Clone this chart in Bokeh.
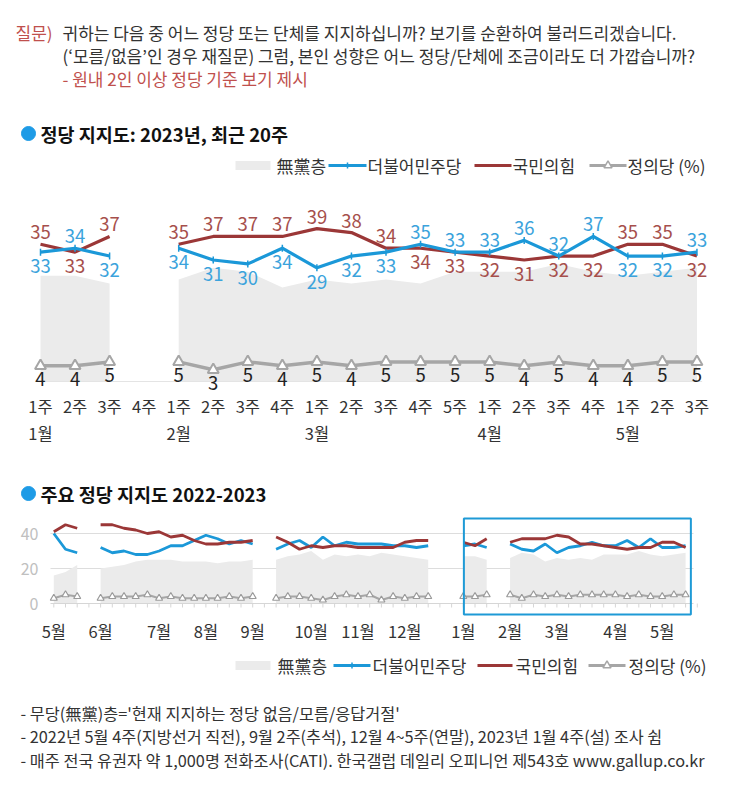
import math
from bokeh.plotting import figure
from bokeh.layouts import column
from bokeh.models import ColumnDataSource, Range1d
from bokeh.core.properties import value
from bokeh.embed import file_html
from bokeh.resources import INLINE

FONT = "Noto Sans CJK KR"
BLUE = "#1b98d8"; BLUE_T = "#3ba3dc"
RED = "#9b3737"; RED_T = "#a64f4c"
GRAY = "#a6a6a6"; AREA = "#ebebeb"
TXT = "#333333"; QRED = "#c0504d"; DOT = "#1e9be6"; BOX = "#1e9ad6"

# ---------------- data: recent 20 weeks (2023) ----------------
week_labels = ["1주", "2주", "3주", "4주", "1주", "2주", "3주", "4주", "1주", "2주",
               "3주", "4주", "5주", "1주", "2주", "3주", "4주", "1주", "2주", "3주"]
month_labels = ["1월", "2월", "3월", "4월", "5월"]
month_first_week = [0, 4, 8, 13, 17]
minju_2023 = [33, 34, 32, None, 34, 31, 30, 34, 29, 32, 33, 35, 33, 33, 36, 32, 37, 32, 32, 33]
ppp_2023 = [35, 33, 37, None, 35, 37, 37, 37, 39, 38, 34, 34, 33, 32, 31, 32, 32, 35, 35, 32]
justice_2023 = [4, 4, 5, None, 5, 3, 5, 4, 5, 4, 5, 5, 5, 5, 4, 5, 4, 4, 5, 5]
nonparty_2023 = [27, 27, 25, None, 26, 29, 28, 24, 26, 25, 26, 25, 28, 28, 28, 30, 28, 27, 28, 29]

# ---------------- data: 2022 weeks (May wk1 .. Dec wk5) ----------------
minju_2022 = [40, 31, 29, None,
              32, 29, 30, 28, 28, 30, 33, 33, 36, 39, 37, 34, 36, 34, None,
              31, 34, 36, 32, 38, 33, 35, 34, 34, 34, 33, 33, 32, 33, None, None]
ppp_2022 = [41, 45, 43, None,
            45, 45, 43, 42, 40, 41, 38, 39, 36, 34, 34, 35, 35, 36, None,
            38, 35, 31, 33, 32, 33, 33, 32, 32, 32, 32, 35, 36, 36, None, None]
justice_2022 = [3, 5, 4, None,
                3, 4, 4, 4, 5, 3, 4, 3, 3, 3, 3, 4, 3, 4, None,
                3, 4, 4, 3, 2, 4, 5, 4, 5, 2, 4, 3, 4, 4, None, None]
nonparty_2022 = [16, 18, 22, None,
                 20, 21, 22, 24, 25, 25, 25, 24, 24, 24, 23, 24, 24, 25, None,
                 25, 27, 28, 30, 25, 28, 27, 28, 27, 29, 28, 27, 26, 25, None, None]
long_month_labels = ["5월", "6월", "7월", "8월", "9월", "10월", "11월", "12월",
                     "1월", "2월", "3월", "4월", "5월"]
long_month_first_week = [0, 4, 9, 13, 17, 22, 26, 30, 35, 39, 43, 48, 52]
y_ticks = [0, 20, 40]

legend_labels = ["無黨층", "더불어민주당", "국민의힘", "정의당 (%)"]

question_lines = ["귀하는 다음 중 어느 정당 또는 단체를 지지하십니까? 보기를 순환하여 불러드리겠습니다.",
                  "(‘모름/없음’인 경우 재질문) 그럼, 본인 성향은 어느 정당/단체에 조금이라도 더 가깝습니까?"]
question_note = "- 원내 2인 이상 정당 기준 보기 제시"
footer_lines = ["- 무당(無黨)층='현재 지지하는 정당 없음/모름/응답거절'",
                "- 2022년 5월 4주(지방선거 직전), 9월 2주(추석), 12월 4~5주(연말), 2023년 1월 4주(설) 조사 쉼",
                "- 매주 전국 유권자 약 1,000명 전화조사(CATI). 한국갤럽 데일리 오피니언 제543호 www.gallup.co.kr"]

PAGE_W = 724
OFF = 0  # page position of the layout's left/top edge


def nanl(a):
    return [float("nan") if v is None else float(v) for v in a]


def runs(a):
    out, cur = [], []
    for i, v in enumerate(a):
        if v is None:
            if cur:
                out.append(cur)
            cur = []
        else:
            cur.append(i)
    if cur:
        out.append(cur)
    return out


def mk(h, xr, yr):
    p = figure(width=PAGE_W, height=h, x_range=xr, y_range=yr,
               x_axis_type=None, y_axis_type=None, toolbar_location=None,
               output_backend="svg", min_border=0, title=None,
               outline_line_color=None, background_fill_color="white",
               border_fill_color="white")
    return p


def txt(p, xs, ys, texts, size, color, align="left", baseline="middle", bold=False, yoff=0):
    p.text(x=xs, y=ys, text=texts, text_font=value(FONT), text_font_size=f"{size}px",
           text_color=color, text_align=align, text_baseline=baseline,
           text_font_style="bold" if bold else "normal", y_offset=yoff)


# ================= header =================
H0 = 100
p0 = mk(H0, Range1d(OFF, OFF + PAGE_W), Range1d(OFF + H0, OFF))
txt(p0, [15], [32], ["질문)"], 17, QRED)
txt(p0, [62, 62], [32, 55], question_lines, 17, TXT)
txt(p0, [62], [78], [question_note], 17, QRED)

# ================= top chart =================
T_TOP, T_H = H0, 350
XSTEP, X0 = 34.55, 40.0
YS, Y0 = 3.92, 381.0
tx_s = -(X0 - OFF) / XSTEP
tx_e = tx_s + PAGE_W / XSTEP
ty_e = (Y0 - T_TOP) / YS
ty_s = ty_e - T_H / YS
p1 = mk(T_H, Range1d(tx_s, tx_e), Range1d(ty_s, ty_e))


def tx(px):
    return tx_s + (px - OFF) / XSTEP


def ty(py):
    return (Y0 - py) / YS


n1 = len(week_labels)
xs1 = list(range(n1))
for r in runs(nonparty_2023):
    p1.varea(x=[xs1[i] for i in r], y1=[0] * len(r), y2=[nonparty_2023[i] for i in r],
             fill_color=AREA)
p1.segment(x0=[-0.15], x1=[n1 - 1 + 0.15], y0=[0], y1=[0], line_color="#e4e4e4", line_width=1)

src1 = ColumnDataSource(dict(x=xs1, d=nanl(minju_2023), r=nanl(ppp_2023), j=nanl(justice_2023)))
p1.line("x", "j", source=src1, line_color=GRAY, line_width=3.5)
p1.scatter("x", "j", source=src1, marker="triangle", size=11, fill_color="white",
           line_color=GRAY, line_width=2)
p1.line("x", "r", source=src1, line_color=RED, line_width=3.2)
p1.line("x", "d", source=src1, line_color=BLUE, line_width=3.2)
p1.scatter("x", "d", source=src1, marker="dash", angle=math.pi / 2, size=7,
           line_color=BLUE, line_width=1.5)

ab_x, ab_y, ab_t, ab_c = [], [], [], []
be_x, be_y, be_t, be_c = [], [], [], []
for i in range(n1):
    d, r = minju_2023[i], ppp_2023[i]
    if d is None:
        continue
    if d >= r:
        hi, lo = (d, BLUE_T), (r, RED_T)
    else:
        hi, lo = (r, RED_T), (d, BLUE_T)
    ab_x.append(i); ab_y.append(hi[0]); ab_t.append(str(hi[0])); ab_c.append(hi[1])
    be_x.append(i); be_y.append(lo[0]); be_t.append(str(lo[0])); be_c.append(lo[1])
p1.text(x=ab_x, y=ab_y, text=ab_t, text_color=ab_c, text_font=value(FONT),
        text_font_size="18.5px", text_align="center", text_baseline="bottom", y_offset=-5)
p1.text(x=be_x, y=be_y, text=be_t, text_color=be_c, text_font=value(FONT),
        text_font_size="18.5px", text_align="center", text_baseline="top", y_offset=7)
jx = [i for i in range(n1) if justice_2023[i] is not None]
p1.text(x=jx, y=[justice_2023[i] for i in jx], text=[str(justice_2023[i]) for i in jx],
        text_color="#222222", text_font=value(FONT), text_font_size="18.5px",
        text_align="center", text_baseline="top", y_offset=6)

txt(p1, xs1, [ty(405)] * n1, week_labels, 16.5, TXT, align="center")
txt(p1, month_first_week, [ty(432)] * len(month_first_week), month_labels, 16.5, TXT, align="center")

# title
p1.scatter([tx(28)], [ty(133)], marker="circle", size=14, fill_color=DOT, line_color=DOT)
txt(p1, [tx(40)], [ty(133)], ["정당 지지도: 2023년, 최근 20주"], 18.5, "#111111", bold=True)


def legend(p, fx, fy, ly, lx):
    # lx: page x positions of the legend parts
    p.quad(left=[fx(lx[0])], right=[fx(lx[1])], bottom=[fy(ly + 4.5)], top=[fy(ly - 4.5)],
           fill_color=AREA, line_color=None)
    p.segment(x0=[fx(lx[3])], x1=[fx(lx[4])], y0=[fy(ly)], y1=[fy(ly)], line_color=BLUE, line_width=3)
    p.scatter([fx((lx[3] + lx[4]) / 2)], [fy(ly)], marker="dash", angle=math.pi / 2, size=6,
              line_color=BLUE, line_width=1.5)
    p.segment(x0=[fx(lx[6])], x1=[fx(lx[7])], y0=[fy(ly)], y1=[fy(ly)], line_color=RED, line_width=3)
    p.segment(x0=[fx(lx[9])], x1=[fx(lx[10])], y0=[fy(ly)], y1=[fy(ly)], line_color=GRAY, line_width=3)
    p.scatter([fx((lx[9] + lx[10]) / 2)], [fy(ly)], marker="triangle", size=8, fill_color="white",
              line_color=GRAY, line_width=1.5)
    txt(p, [fx(lx[2]), fx(lx[5]), fx(lx[8]), fx(lx[11])], [fy(ly)] * 4, legend_labels, 17, TXT)


legend(p1, tx, ty, 165, [235, 270, 276, 328, 366, 367, 474, 511, 512, 589, 626, 627])

# ================= bottom chart =================
B_TOP, B_H = T_TOP + T_H, 240
XSTEP2, X02 = 11.7, 53.3
YS2, Y02 = 1.75, 603.0
bx_s = -(X02 - OFF) / XSTEP2
bx_e = bx_s + PAGE_W / XSTEP2
by_e = (Y02 - B_TOP) / YS2
by_s = by_e - B_H / YS2
p2 = mk(B_H, Range1d(bx_s, bx_e), Range1d(by_s, by_e))


def bx(px):
    return bx_s + (px - OFF) / XSTEP2


def by(py):
    return (Y02 - py) / YS2


minju_all = minju_2022 + minju_2023
ppp_all = ppp_2022 + ppp_2023
justice_all = justice_2022 + justice_2023
nonparty_all = nonparty_2022 + nonparty_2023
n2 = len(minju_all)
xs2 = list(range(n2))

# grid and axis
p2.segment(x0=[bx(50)] * 2, x1=[bx(693)] * 2, y0=y_ticks[1:], y1=y_ticks[1:],
           line_color="#dddddd", line_width=1)
for r in runs(nonparty_all):
    p2.varea(x=[xs2[i] for i in r], y1=[0] * len(r), y2=[nonparty_all[i] for i in r],
             fill_color=AREA)
p2.segment(x0=[bx(50)], x1=[bx(693)], y0=[0], y1=[0], line_color="#d6d6d6", line_width=1)
tick_x = list(range(n2 + 1))
p2.segment(x0=tick_x, x1=tick_x, y0=[0] * len(tick_x), y1=[-4 / YS2] * len(tick_x),
           line_color="#d6d6d6", line_width=1)
txt(p2, [bx(38)] * 3, y_ticks, [str(v) for v in y_ticks], 16, "#c0c0c0", align="right")

src2 = ColumnDataSource(dict(x=xs2, d=nanl(minju_all), r=nanl(ppp_all), j=nanl(justice_all)))
p2.line("x", "j", source=src2, line_color=GRAY, line_width=2)
p2.scatter("x", "j", source=src2, marker="triangle", size=7, fill_color="white",
           line_color="#9a9a9a", line_width=1.2)
p2.line("x", "d", source=src2, line_color=BLUE, line_width=2.8)
p2.line("x", "r", source=src2, line_color=RED, line_width=2.8)

txt(p2, long_month_first_week, [by(630)] * len(long_month_first_week), long_month_labels, 16.5, TXT,
    align="center")

# highlight box around the 2023 weeks
first_2023 = len(minju_2022)
p2.quad(left=[first_2023 + 0.05], right=[n2 - 1 + 0.45], bottom=[by(614)], top=[by(518)],
        fill_color=None, line_color=BOX, line_width=2)

p2.scatter([bx(28)], [by(493)], marker="circle", size=14, fill_color=DOT, line_color=DOT)
txt(p2, [bx(40)], [by(493)], ["주요 정당 지지도 2022-2023"], 18.5, "#111111", bold=True)

legend(p2, bx, by, 665, [235, 270, 277, 333, 370, 372, 477, 512, 515, 588, 625, 628])

# ================= footer =================
F_TOP = B_TOP + B_H
F_H = 94
p3 = mk(F_H, Range1d(OFF, OFF + PAGE_W), Range1d(F_TOP + F_H, F_TOP))
txt(p3, [20, 20, 20], [712, 735, 759], footer_lines, 16.3, TXT)

layout = column(p0, p1, p2, p3, spacing=0)
open("out.html", "w").write(file_html(layout, INLINE))
